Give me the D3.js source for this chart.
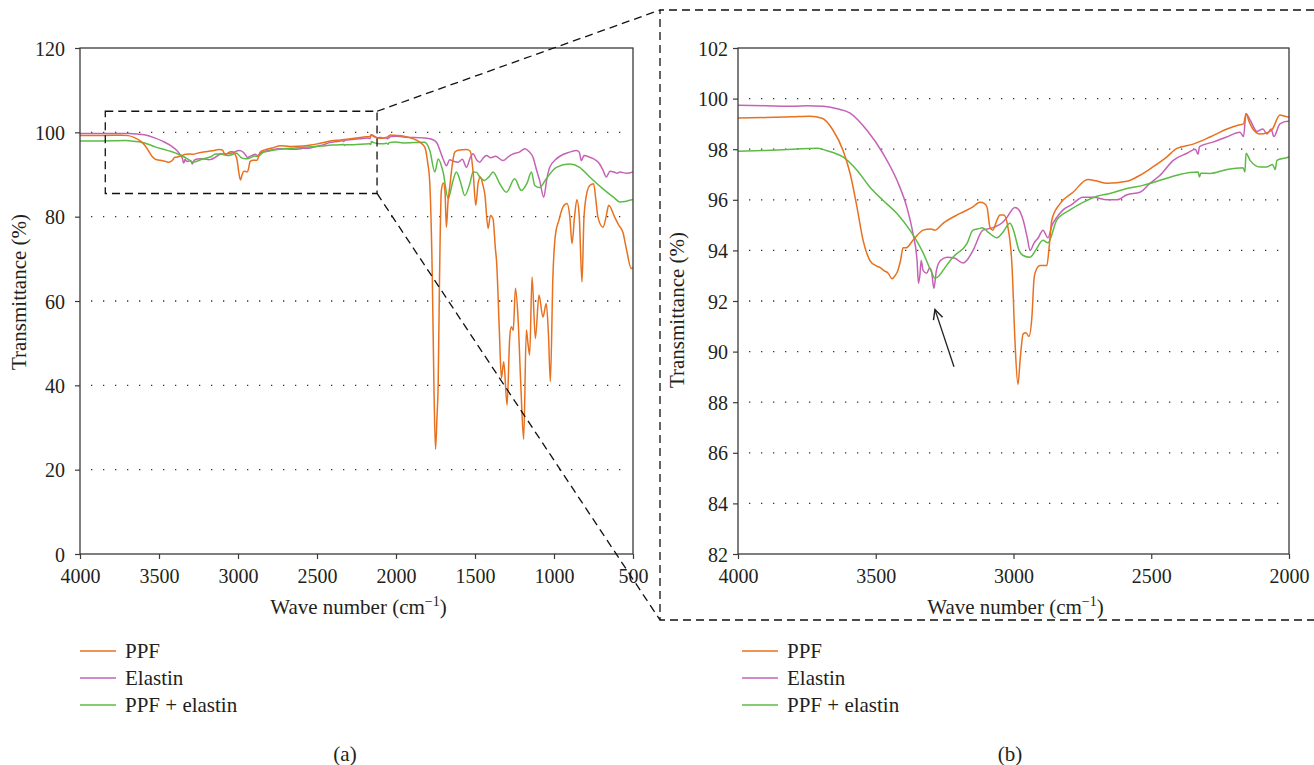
<!DOCTYPE html>
<html>
<head>
<meta charset="utf-8">
<script src="https://cdn.jsdelivr.net/npm/d3@7"></script>
<style>
  body { margin: 0; background: #fff; }
  text { fill: #231f20; }
</style>
</head>
<body>
<script>
// FTIR spectra, transmittance (%) vs wave number (cm-1)

const ppfWave = [4000,3900,3800,3739,3695,3655,3619,3593,3568,3546,3521,3500,3485,3470,3455,3441,3430,3420,3410,3401,3390,3365,3328,3300,3285,3256,3194,3150,3122,3105,3096,3085,3075,3060,3049,3035,3020,3005,2995,2984,2975,2965,2955,2944,2933,2926,2922,2904,2879,2870,2861,2831,2784,2730,2700,2661,2588,2541,2494,2443,2407,2348,2287,2225,2185,2165,2156,2145,2131,2105,2080,2060,2033,2015,2000,
  1950,1900,1849,1818,1800,1786,1770,1760,1750,1740,1733,1725,1713,1700,1690,1681,1670,1660,1645,1628,1600,1554,1530,1512,1495,1480,1466,1450,1438,1417,1402,1386,1370,1364,1345,1333,1318,1297,1280,1270,1258,1244,1228,1210,1192,1175,1165,1154,1139,1118,1095,1070,1049,1035,1023,1007,990,970,943,918,900,886,870,855,840,823,810,790,774,749,735,722,690,670,654,616,590,564,540,511,500];
const ppfT = [99.23,99.25,99.28,99.3,99.22,98.75,97.96,97.04,95.7,94.4,93.6,93.4,93.33,93.2,93.1,92.88,93.0,93.2,93.6,94.1,94.1,94.4,94.8,94.85,94.8,95.07,95.46,95.7,95.9,95.85,95.7,94.9,94.8,95.2,95.4,95.4,94.9,93.3,90.5,88.7,89.8,90.7,90.75,90.6,91.4,92.8,93.1,93.4,93.4,94.2,95.2,95.85,96.3,96.8,96.75,96.65,96.73,96.97,97.3,97.7,98.03,98.2,98.48,98.8,98.95,99.0,99.4,99.1,98.8,98.6,98.65,98.8,99.35,99.3,99.27,
  99.1,98.6,97.66,96.5,93,87.8,65,40,24.85,33,40.5,64.1,86.2,88,86,77.5,84,87.0,92,95.3,95.8,95.9,95.5,90.6,82.7,88,89.4,87.5,85.4,77.2,80.3,79.5,72,69.7,52,41.7,45.6,35.3,51.5,53.9,53,63.0,56.2,40,27.2,53.1,50,47.2,65.7,51.1,61.4,56.2,59.4,52,40.9,65.7,76,79,82.3,83.1,80,73.6,80,84.0,80,64.5,80,86,87.4,87.8,84,79.9,77.5,80,82.7,79.9,78,76.3,72,67.7,67.9];

const elastinWave = [4000,3900,3800,3750,3691,3640,3593,3532,3474,3423,3387,3365,3350,3345,3340,3335,3328,3315,3305,3298,3289,3280,3265,3241,3215,3183,3170,3147,3111,3074,3040,3024,2995,2980,2965,2950,2940,2925,2910,2893,2875,2860,2843,2820,2790,2748,2711,2661,2625,2588,2541,2505,2468,2420,2370,2340,2330,2325,2276,2227,2178,2165,2156,2141,2116,2095,2080,2065,2055,2033,2004,2000,
  1955,1807,1770,1744,1700,1681,1660,1640,1607,1580,1554,1530,1512,1490,1470,1450,1428,1400,1370,1322,1290,1259,1220,1185,1160,1133,1110,1091,1065,1045,1027,985,940,901,858,840,827,810,774,740,711,690,669,645,620,600,584,540,500];
const elastinT = [99.74,99.72,99.7,99.72,99.7,99.6,99.43,98.75,97.84,96.77,95.7,94.67,93.6,92.7,93.0,93.6,93.2,93.1,93.3,93.2,92.5,93.2,93.6,93.73,93.7,93.5,93.6,94.0,94.8,94.9,95.1,95.3,95.7,95.6,95.2,94.5,94.0,94.3,94.5,94.8,94.5,95.0,95.3,95.6,95.8,96.1,96.1,96.0,96.0,96.2,96.3,96.65,96.97,97.56,97.84,98.0,97.8,98.1,98.28,98.48,98.67,98.5,99.4,99.15,98.7,98.8,98.6,98.8,98.5,99.0,99.1,99.1,
  98.9,98.6,98.3,97.66,93.5,92.1,93.5,93.2,92.9,93.6,91.7,94.0,94.9,93.5,92.9,93.8,94.5,94.0,94.3,93.3,94.2,94.9,95.3,96.1,95.5,94.1,91,88.6,84.6,89,91.7,93.7,94.8,95.3,95.7,95.3,93.3,94.5,94.1,93.5,92.5,91,89.4,90.8,90.6,90.3,90.6,90.3,90.6];

const blendWave = [4000,3900,3800,3713,3680,3650,3619,3568,3521,3474,3423,3376,3328,3300,3285,3270,3250,3220,3169,3147,3122,3114,3090,3060,3040,3013,3000,2980,2965,2940,2920,2893,2875,2843,2795,2748,2697,2650,2588,2530,2468,2407,2359,2330,2325,2320,2287,2225,2167,2160,2156,2141,2105,2080,2060,2050,2044,2004,2000,
  1955,1818,1786,1754,1733,1702,1670,1639,1618,1590,1565,1533,1512,1490,1470,1440,1410,1386,1343,1301,1249,1207,1170,1143,1122,1091,1049,985,901,838,774,690,620,584,500];
const blendT = [97.92,97.95,98.0,98.04,97.95,97.85,97.7,97.17,96.5,95.98,95.46,94.8,93.9,93.2,92.9,93.0,93.3,93.73,94.27,94.8,94.87,94.9,94.7,94.5,94.7,95.07,94.8,94.0,93.8,93.73,94.0,94.4,94.3,95.2,95.6,95.9,96.14,96.25,96.45,96.57,96.77,96.97,97.08,97.1,96.9,97.05,97.04,97.2,97.27,97.1,97.84,97.56,97.3,97.3,97.4,97.2,97.56,97.68,97.7,
  97.5,97.66,95.7,90.6,93.7,90.6,84.3,88.6,90.6,88,85.0,87.8,90.6,90.5,89.4,88.6,89.5,90.6,87.8,85.8,89.0,86.2,88,90.6,87.4,86.9,89.0,91.7,92.5,91.7,89.4,86.6,84.5,83.5,84.1];

const seriesNames = ["PPF", "Elastin", "PPF + elastin"];
const seriesColors = ["#e8711f", "#c562b6", "#5cbb45"];

const fullXTicks = [4000,3500,3000,2500,2000,1500,1000,500];
const fullYTicks = [0,20,40,60,80,100,120];
const zoomXTicks = [4000,3500,3000,2500,2000];
const zoomYTicks = [82,84,86,88,90,92,94,96,98,100,102];

// region of panel (a) enlarged in panel (b)
const zoomBoxWave = [3840, 2120];
const zoomBoxT = [85.5, 105];
// arrow in panel (b): tail, head
const arrowTail = [3216, 89.4];
const arrowHead = [3285, 91.66];

const series = seriesNames.map((name, i) => {
  const w = [ppfWave, elastinWave, blendWave][i];
  const t = [ppfT, elastinT, blendT][i];
  return { name, color: seriesColors[i], values: w.map((d, j) => ({ w: d, t: t[j] })) };
});

const FONT = "'Liberation Serif', 'DejaVu Serif', serif";

const svg = d3.select("body").append("svg")
  .attr("width", 1314).attr("height", 765)
  .attr("font-family", FONT);

const defs = svg.append("defs");
defs.append("marker").attr("id", "arr")
  .attr("viewBox", "0 0 10 10").attr("refX", 9).attr("refY", 5)
  .attr("markerWidth", 12).attr("markerHeight", 12).attr("markerUnits", "userSpaceOnUse")
  .attr("orient", "auto")
  .append("path").attr("d", "M1,1 L9,5 L1,9").attr("fill", "none")
  .attr("stroke", "#231f20").attr("stroke-width", 1.2);

function panel(o) {
  const { id, left, top, width, height } = o;
  const x = d3.scaleLinear().domain(o.xDomain).range([left, left + width]);
  const y = d3.scaleLinear().domain(o.yDomain).range([top + height, top]);
  const g = svg.append("g");

  defs.append("clipPath").attr("id", "clip" + id)
    .append("rect").attr("x", left).attr("y", top).attr("width", width).attr("height", height);

  // dotted grid
  g.append("g").selectAll("line")
    .data(o.yTicks.slice(1, -1))
    .join("line")
    .attr("x1", left + 11).attr("x2", left + width - 4)
    .attr("y1", d => y(d)).attr("y2", d => y(d))
    .attr("stroke", "#333").attr("stroke-width", 1.3)
    .attr("stroke-dasharray", "1.3,10.7");

  // spectra
  const line = d3.line().x(d => x(d.w)).y(d => y(d.t)).curve(d3.curveMonotoneX);
  g.append("g").attr("clip-path", `url(#clip${id})`)
    .selectAll("path")
    .data([series[1], series[2], series[0]])
    .join("path")
    .attr("d", d => line(d.values))
    .attr("fill", "none")
    .attr("stroke", d => d.color)
    .attr("stroke-width", 1.5)
    .attr("stroke-linejoin", "round");

  // frame
  g.append("rect").attr("x", left).attr("y", top).attr("width", width).attr("height", height)
    .attr("fill", "none").attr("stroke", "#3a3a3a").attr("stroke-width", 1.3);

  const fmt = d3.format("d");
  const xAxis = g.append("g").attr("transform", `translate(0,${top + height})`)
    .call(d3.axisBottom(x).tickValues(o.xTicks).tickFormat(fmt).tickSize(5).tickSizeOuter(0).tickPadding(6));
  const yAxis = g.append("g").attr("transform", `translate(${left},0)`)
    .call(d3.axisLeft(y).tickValues(o.yTicks).tickFormat(fmt).tickSize(5).tickSizeOuter(0).tickPadding(o.yPad));
  [xAxis, yAxis].forEach(ax => {
    ax.attr("font-family", FONT).attr("font-size", 20);
    ax.select(".domain").remove();
    ax.selectAll("line").attr("stroke", "#3a3a3a").attr("stroke-width", 1.2);
    ax.selectAll("text").attr("fill", "#231f20");
  });
  xAxis.selectAll("text").attr("dy", "0.9em");
  yAxis.selectAll("text").attr("dy", "0.35em");

  // axis titles
  const xt = g.append("text").attr("x", left + width / 2 + 2).attr("y", 614)
    .attr("text-anchor", "middle").attr("font-size", 21);
  xt.append("tspan").text("Wave number (cm");
  xt.append("tspan").attr("dy", -8).attr("font-size", 14).text("\u22121");
  xt.append("tspan").attr("dy", 8).text(")");

  g.append("text")
    .attr("transform", `translate(${left - 54},${o.yTitleMid}) rotate(-90)`)
    .attr("text-anchor", "middle").attr("font-size", 21)
    .text("Transmittance (%)");

  // legend
  const lg = g.append("g").selectAll("g").data(series).join("g")
    .attr("transform", (d, i) => `translate(${o.legendX},${651 + i * 27})`);
  lg.append("line").attr("x1", 0).attr("x2", 36).attr("y1", 0).attr("y2", 0)
    .attr("stroke", d => d.color).attr("stroke-width", 1.6);
  lg.append("text").attr("x", 45).attr("y", 7).attr("font-size", 21).text(d => d.name);

  return { x, y, g };
}

const a = panel({ id: "a", left: 80, top: 48, width: 553, height: 506,
  xDomain: [4000, 500], yDomain: [0, 120], xTicks: fullXTicks, yTicks: fullYTicks,
  yPad: 10, yTitleMid: 292, legendX: 80 });
const b = panel({ id: "b", left: 738, top: 48, width: 551, height: 506,
  xDomain: [4000, 2000], yDomain: [82, 102], xTicks: zoomXTicks, yTicks: zoomYTicks,
  yPad: 5, yTitleMid: 310, legendX: 742 });

svg.append("text").attr("x", 345).attr("y", 761).attr("text-anchor", "middle").attr("font-size", 21).text("(a)");
svg.append("text").attr("x", 1010).attr("y", 761).attr("text-anchor", "middle").attr("font-size", 21).text("(b)");

// zoom box in (a), dashed frame around (b), connector lines
const dash = { stroke: "#111", "stroke-width": 1.3, "stroke-dasharray": "8,5", fill: "none" };
const setDash = s => Object.entries(dash).forEach(([k, v]) => s.attr(k, v));

const bx0 = a.x(zoomBoxWave[0]), bx1 = a.x(zoomBoxWave[1]);
const by0 = a.y(zoomBoxT[1]), by1 = a.y(zoomBoxT[0]);
setDash(svg.append("rect").attr("x", bx0).attr("y", by0).attr("width", bx1 - bx0).attr("height", by1 - by0));

const frameL = 660, frameT = 10, frameB = 620, frameR = 1314;
setDash(svg.append("path").attr("d", `M${frameR},${frameT} H${frameL} V${frameB} H${frameR}`));
setDash(svg.append("line").attr("x1", bx1).attr("y1", by0).attr("x2", frameL).attr("y2", frameT));
setDash(svg.append("line").attr("x1", bx1).attr("y1", by1).attr("x2", frameL).attr("y2", frameB));

// arrow in (b)
b.g.append("line")
  .attr("x1", b.x(arrowTail[0])).attr("y1", b.y(arrowTail[1]))
  .attr("x2", b.x(arrowHead[0])).attr("y2", b.y(arrowHead[1]))
  .attr("stroke", "#231f20").attr("stroke-width", 1.3)
  .attr("marker-end", "url(#arr)");
</script>
</body>
</html>
